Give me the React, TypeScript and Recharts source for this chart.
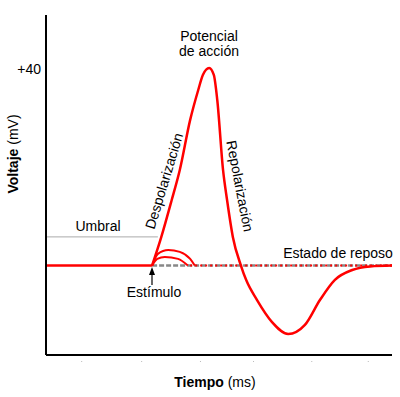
import { LineChart, Line, XAxis, YAxis } from 'recharts';

// tiempo (ms) y voltaje (mV)
const restTime = [0, 1.84];
const restVoltage = [-70, -70];

const spikeTime = [1.84, 2.0, 2.18, 2.32, 2.5, 2.64, 2.72, 2.83, 2.91, 2.97, 3.07, 3.14, 3.24, 3.38, 3.47, 3.66, 3.92, 4.2, 4.49, 4.75, 5.01, 5.31, 5.62, 6.0];
const spikeVoltage = [-70, -54, -33.4, -16.6, 11.4, 28.1, 36.5, 40.4, 36.5, 22.5, -16.6, -33.4, -54, -70, -78, -89.3, -101.6, -108.3, -103.2, -89.3, -78, -72.5, -70.5, -70];

const bigBumpTime = [1.84, 1.94, 2.12, 2.32, 2.5, 2.58];
const bigBumpVoltage = [-70, -63.5, -61.3, -62.4, -66.3, -70];
const smallBumpTime = [1.84, 1.93, 2.06, 2.29, 2.46];
const smallBumpVoltage = [-70, -66.3, -65.2, -66.3, -70];

const reposoTime = [1.84, 6];
const reposoDotsTime = [2.5, 6];
const reposoVoltage = [-70, -70];

const umbralTime = [0, 1.94];
const umbralVoltage = [-54, -54];

const voltTicks = [40];
const timeTicks = [0.61, 1.65, 2.67, 3.59, 4.6, 5.58];

const zip = (t: number[], v: number[]) => t.map((x, i) => ({ t: x, v: v[i] }));

const RED = '#ff0000';
const FONT = '"Liberation Sans", Arial, sans-serif';

const VoltTick = ({ x, y, payload }: any) => (
  <text x={41} y={y + 5} textAnchor="end" fontSize={14} fill="#000" fontFamily={FONT}>
    +{payload.value}
  </text>
);

const TimeTick = ({ x, y }: any) => <rect x={x} y={361} width={1} height={1} fill="#bbb" />;

export default function App() {
  return (
    <div style={{ position: 'absolute', left: 0, top: 0, width: 400, height: 397, background: '#fff' }}>
      <LineChart width={400} height={397} margin={{ top: 15, right: 8, bottom: 12, left: 6 }}>
        <XAxis
          dataKey="t"
          type="number"
          domain={[0, 6]}
          ticks={timeTicks}
          height={30}
          axisLine={{ stroke: '#000', strokeWidth: 2 }}
          tickLine={false}
          tick={<TimeTick />}
        />
        <YAxis
          type="number"
          domain={[-120, 70]}
          ticks={voltTicks}
          width={40}
          axisLine={{ stroke: '#000', strokeWidth: 2 }}
          tickLine={false}
          tick={<VoltTick />}
        />
        <Line data={zip(umbralTime, umbralVoltage)} dataKey="v" stroke="#aaa" strokeWidth={1} dot={false} activeDot={false} isAnimationActive={false} />
        <Line data={zip(reposoTime, reposoVoltage)} dataKey="v" stroke="#888" strokeWidth={2.5} strokeDasharray="5 2" dot={false} activeDot={false} isAnimationActive={false} />
        <Line data={zip(reposoDotsTime, reposoVoltage)} dataKey="v" stroke={RED} strokeWidth={2} strokeDasharray="2 3" dot={false} activeDot={false} isAnimationActive={false} />
        <Line data={zip(bigBumpTime, bigBumpVoltage)} type="monotone" dataKey="v" stroke={RED} strokeWidth={2} dot={false} activeDot={false} isAnimationActive={false} />
        <Line data={zip(smallBumpTime, smallBumpVoltage)} type="monotone" dataKey="v" stroke={RED} strokeWidth={2} dot={false} activeDot={false} isAnimationActive={false} />
        <Line data={zip(restTime, restVoltage)} dataKey="v" stroke={RED} strokeWidth={2.5} dot={false} activeDot={false} isAnimationActive={false} />
        <Line data={zip(spikeTime, spikeVoltage)} type="monotone" dataKey="v" stroke={RED} strokeWidth={2.5} dot={false} activeDot={false} isAnimationActive={false} />
      </LineChart>
      <svg width={400} height={397} style={{ position: 'absolute', left: 0, top: 0, pointerEvents: 'none' }} fontFamily={FONT} fontSize={14} fill="#000">
        <text textAnchor="middle" transform="translate(18,154) rotate(-90)">
          <tspan fontWeight="bold">Voltaje</tspan> (mV)
        </text>
        <text x={215} y={387} textAnchor="middle">
          <tspan fontWeight="bold">Tiempo</tspan> (ms)
        </text>
        <text x={209} y={41} textAnchor="middle">Potencial</text>
        <text x={209} y={56} textAnchor="middle">de acción</text>
        <text textAnchor="middle" dominantBaseline="central" transform="translate(164,181) rotate(-73)">Despolarización</text>
        <text textAnchor="middle" dominantBaseline="central" transform="translate(240,186) rotate(79)">Repolarización</text>
        <text x={98} y={231} textAnchor="middle">Umbral</text>
        <text x={338} y={258} textAnchor="middle">Estado de reposo</text>
        <text x={154} y={297} textAnchor="middle">Estímulo</text>
        <line x1={152} y1={285} x2={152} y2={273} stroke="#000" strokeWidth={1.2} />
        <polygon points="152,267 149,275 155,275" fill="#000" />
      </svg>
    </div>
  );
}
